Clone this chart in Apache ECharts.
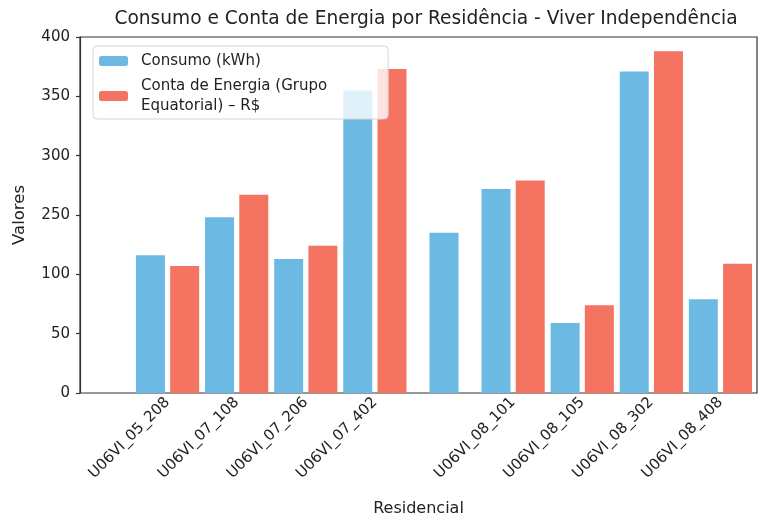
<!DOCTYPE html>
<html>
<head>
<meta charset="utf-8">
<script src="https://cdn.jsdelivr.net/npm/echarts@6/dist/echarts.min.js"></script>
<style>
    html, body { margin: 0; padding: 0; background: #fff; }
    #chart { width: 759px; height: 521px; }
</style>
</head>
<body>
<div id="chart"></div>
<script>
// residences (the blank slot holds the extra consumo bar next to U06VI_08_101)
const categories = ['U06VI_05_208', 'U06VI_07_108', 'U06VI_07_206', 'U06VI_07_402', '',
    'U06VI_08_101', 'U06VI_08_105', 'U06VI_08_302', 'U06VI_08_408']
const consumo = [116, 148, 113, 255, null, 172, 59, 271, 79]
const consumoExtra = [null, null, null, null, 135, null, null, null, null]
const conta = [107, 167, 124, 273, null, 179, 74, 288, 109]
const yTickLabels = ['0', '50', '100', '250', '300', '350', '400']

const font = 'DejaVu Sans'
const blue = '#6CBAE4'
const red = '#F47361'
const nameConsumo = 'Consumo (kWh)'
const nameConta = 'Conta de Energia (Grupo Equatorial) – R$'

const chart = echarts.init(document.getElementById('chart'))
chart.setOption({
    animation: false,
    title: {
        text: 'Consumo e Conta de Energia por Residência - Viver Independência',
        left: 421,
        top: 5,
        textAlign: 'center',
        textStyle: { fontFamily: font, fontSize: 18.6, fontWeight: 'normal', color: '#222' }
    },
    legend: {
        data: [nameConsumo, nameConta],
        orient: 'vertical',
        left: 93,
        top: 46,
        padding: [5, 61, 3, 6],
        itemGap: 5,
        itemWidth: 29,
        itemHeight: 10,
        backgroundColor: 'rgba(255,255,255,0.8)',
        borderColor: '#d4d4d4',
        borderWidth: 1,
        borderRadius: 4,
        formatter: name => name.replace(' Equatorial', '\nEquatorial'),
        textStyle: { fontFamily: font, fontSize: 15, color: '#222', lineHeight: 20, padding: [0, 0, 0, 8] }
    },
    grid: [
        // frame / spines
        { left: 80, right: 2, top: 37, bottom: 128, show: true, borderColor: '#333', borderWidth: 1.2, outerBoundsMode: 'none' },
        // bars
        { left: 133, right: 4, top: 37, bottom: 128, outerBoundsMode: 'none' }
    ],
    xAxis: [{
        gridIndex: 0,
        type: 'value',
        min: 0,
        max: 1,
        name: 'Residencial',
        nameLocation: 'middle',
        nameGap: 108,
        nameTextStyle: { fontFamily: font, fontSize: 16, color: '#222' },
        axisLine: { show: false },
        axisTick: { show: false },
        axisLabel: { show: false },
        splitLine: { show: false }
    }, {
        gridIndex: 1,
        type: 'category',
        data: categories,
        axisLine: { show: false },
        axisTick: {
            alignWithLabel: true,
            length: 4,
            interval: (i, v) => v !== '',
            lineStyle: { color: '#333', width: 1.2 }
        },
        axisLabel: {
            interval: 0,
            rotate: 45,
            margin: 7,
            fontFamily: font,
            fontSize: 15,
            color: '#222'
        }
    }, {
        gridIndex: 1,
        type: 'category',
        data: categories,
        show: false
    }],
    yAxis: [{
        gridIndex: 0,
        type: 'value',
        min: 0,
        max: 300,
        interval: 50,
        name: 'Valores',
        nameLocation: 'middle',
        nameGap: 52,
        nameTextStyle: { fontFamily: font, fontSize: 16.5, color: '#222' },
        axisLine: { show: true, lineStyle: { color: '#333', width: 1.2 } },
        axisTick: { show: true, length: 4, lineStyle: { color: '#333', width: 1.2 } },
        axisLabel: {
            margin: 10,
            fontFamily: font,
            fontSize: 15,
            color: '#222',
            formatter: v => yTickLabels[Math.round(v / 50)]
        },
        splitLine: { show: false }
    }, {
        gridIndex: 1,
        type: 'value',
        min: 0,
        max: 300,
        show: false
    }],
    series: [{
        name: nameConsumo,
        type: 'bar',
        xAxisIndex: 1,
        yAxisIndex: 1,
        barWidth: 29,
        barGap: '18%',
        itemStyle: { color: blue },
        data: consumo
    }, {
        name: nameConta,
        type: 'bar',
        xAxisIndex: 1,
        yAxisIndex: 1,
        barWidth: 29,
        barGap: '18%',
        itemStyle: { color: red },
        data: conta
    }, {
        name: nameConsumo,
        type: 'bar',
        xAxisIndex: 2,
        yAxisIndex: 1,
        barWidth: 29,
        itemStyle: { color: blue },
        data: consumoExtra
    }]
})
</script>
</body>
</html>
